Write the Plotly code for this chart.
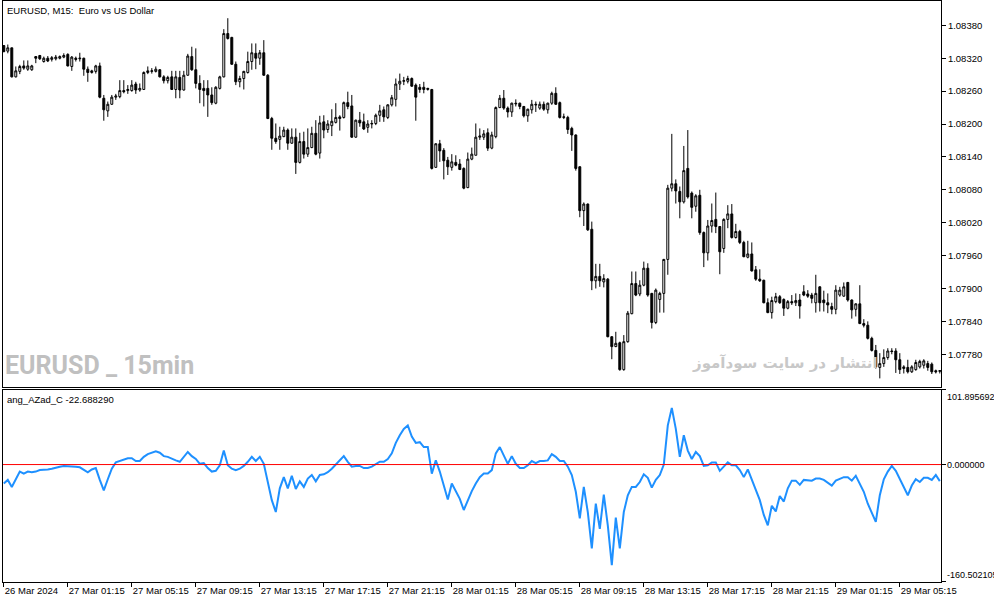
import plotly.graph_objects as go
from plotly.subplots import make_subplots
import pandas as pd

inicio = "2024-03-26 21:15"

apertura = [
    1.08343, 1.08333, 1.08339, 1.08286, 1.08296, 1.08306, 1.08300, 1.08299, 1.08323, 1.08325,
    1.08314, 1.08320, 1.08318, 1.08319, 1.08320, 1.08322, 1.08327, 1.08305, 1.08320, 1.08319,
    1.08320, 1.08300, 1.08294, 1.08296, 1.08306, 1.08247, 1.08224, 1.08236, 1.08249, 1.08250,
    1.08261, 1.08261, 1.08261, 1.08273, 1.08262, 1.08263, 1.08294, 1.08296, 1.08296, 1.08299,
    1.08286, 1.08279, 1.08286, 1.08263, 1.08285, 1.08262, 1.08289, 1.08323, 1.08299, 1.08274,
    1.08265, 1.08265, 1.08253, 1.08238, 1.08265, 1.08286, 1.08365, 1.08358, 1.08309, 1.08277,
    1.08283, 1.08294, 1.08314, 1.08329, 1.08320, 1.08330, 1.08289, 1.08210, 1.08174, 1.08172,
    1.08177, 1.08189, 1.08165, 1.08176, 1.08130, 1.08168, 1.08145, 1.08157, 1.08183, 1.08147,
    1.08204, 1.08190, 1.08197, 1.08203, 1.08213, 1.08212, 1.08239, 1.08233, 1.08176, 1.08207,
    1.08204, 1.08194, 1.08200, 1.08201, 1.08216, 1.08226, 1.08212, 1.08235, 1.08245, 1.08273,
    1.08278, 1.08278, 1.08283, 1.08271, 1.08267, 1.08267, 1.08263, 1.08263, 1.08121, 1.08164,
    1.08152, 1.08134, 1.08121, 1.08130, 1.08127, 1.08119, 1.08084, 1.08136, 1.08143, 1.08176,
    1.08176, 1.08184, 1.08156, 1.08177, 1.08230, 1.08247, 1.08229, 1.08222, 1.08238, 1.08238,
    1.08232, 1.08215, 1.08226, 1.08236, 1.08229, 1.08236, 1.08226, 1.08238, 1.08256, 1.08239,
    1.08212, 1.08212, 1.08192, 1.08180, 1.08122, 1.08042, 1.08054, 1.08008, 1.07914, 1.07922,
    1.07912, 1.07917, 1.07812, 1.07794, 1.07801, 1.07752, 1.07803, 1.07854, 1.07909, 1.07890,
    1.07906, 1.07937, 1.07891, 1.07838, 1.07880, 1.07891, 1.07953, 1.08083, 1.08091, 1.08077,
    1.08058, 1.08119, 1.08074, 1.08050, 1.08070, 1.08002, 1.07965, 1.08014, 1.08026, 1.08013,
    1.07973, 1.08026, 1.08036, 1.07993, 1.08004, 1.07984, 1.07957, 1.07963, 1.07934, 1.07917,
    1.07915, 1.07874, 1.07856, 1.07876, 1.07885, 1.07880, 1.07864, 1.07876, 1.07874, 1.07879,
    1.07894, 1.07890, 1.07888, 1.07874, 1.07903, 1.07879, 1.07874, 1.07867, 1.07862, 1.07888,
    1.07886, 1.07911, 1.07879, 1.07862, 1.07872, 1.07836, 1.07833, 1.07809, 1.07787, 1.07756,
    1.07763, 1.07774, 1.07786, 1.07786, 1.07770, 1.07754, 1.07756, 1.07748, 1.07752, 1.07757,
    1.07760, 1.07763, 1.07762, 1.07750, 1.07749,
]

maximo = [
    1.08344, 1.08345, 1.08339, 1.08305, 1.08308, 1.08316, 1.08316, 1.08308, 1.08324, 1.08326,
    1.08323, 1.08324, 1.08324, 1.08326, 1.08325, 1.08329, 1.08329, 1.08324, 1.08323, 1.08330,
    1.08321, 1.08305, 1.08299, 1.08308, 1.08312, 1.08253, 1.08241, 1.08253, 1.08255, 1.08280,
    1.08280, 1.08271, 1.08280, 1.08277, 1.08274, 1.08296, 1.08305, 1.08302, 1.08305, 1.08300,
    1.08289, 1.08288, 1.08297, 1.08297, 1.08297, 1.08297, 1.08328, 1.08341, 1.08338, 1.08289,
    1.08280, 1.08280, 1.08267, 1.08269, 1.08288, 1.08373, 1.08393, 1.08359, 1.08314, 1.08288,
    1.08297, 1.08332, 1.08347, 1.08347, 1.08335, 1.08353, 1.08291, 1.08213, 1.08201, 1.08195,
    1.08195, 1.08192, 1.08192, 1.08192, 1.08184, 1.08186, 1.08192, 1.08195, 1.08207, 1.08215,
    1.08216, 1.08207, 1.08227, 1.08238, 1.08216, 1.08241, 1.08259, 1.08253, 1.08208, 1.08222,
    1.08219, 1.08207, 1.08207, 1.08219, 1.08235, 1.08232, 1.08236, 1.08253, 1.08283, 1.08292,
    1.08286, 1.08288, 1.08285, 1.08274, 1.08273, 1.08277, 1.08266, 1.08264, 1.08165, 1.08171,
    1.08156, 1.08140, 1.08145, 1.08143, 1.08136, 1.08121, 1.08148, 1.08157, 1.08201, 1.08192,
    1.08189, 1.08192, 1.08186, 1.08232, 1.08253, 1.08262, 1.08232, 1.08239, 1.08245, 1.08239,
    1.08233, 1.08228, 1.08244, 1.08241, 1.08241, 1.08241, 1.08239, 1.08259, 1.08267, 1.08241,
    1.08219, 1.08215, 1.08195, 1.08181, 1.08123, 1.08057, 1.08055, 1.08022, 1.07945, 1.07945,
    1.07926, 1.07919, 1.07813, 1.07821, 1.07803, 1.07815, 1.07859, 1.07931, 1.07931, 1.07915,
    1.07949, 1.07946, 1.07892, 1.07900, 1.07894, 1.07954, 1.08089, 1.08182, 1.08099, 1.08086,
    1.08160, 1.08189, 1.08077, 1.08072, 1.08080, 1.08004, 1.08025, 1.08055, 1.08075, 1.08014,
    1.08028, 1.08052, 1.08054, 1.08018, 1.08007, 1.07987, 1.07987, 1.07984, 1.07941, 1.07935,
    1.07916, 1.07882, 1.07885, 1.07892, 1.07888, 1.07882, 1.07879, 1.07888, 1.07891, 1.07890,
    1.07906, 1.07897, 1.07892, 1.07925, 1.07904, 1.07896, 1.07891, 1.07874, 1.07906, 1.07903,
    1.07911, 1.07912, 1.07880, 1.07873, 1.07906, 1.07844, 1.07840, 1.07812, 1.07797, 1.07782,
    1.07789, 1.07791, 1.07791, 1.07791, 1.07782, 1.07760, 1.07770, 1.07760, 1.07770, 1.07770,
    1.07771, 1.07768, 1.07765, 1.07752, 1.07751,
]

minimo = [
    1.08331, 1.08329, 1.08285, 1.08285, 1.08291, 1.08299, 1.08297, 1.08297, 1.08311, 1.08317,
    1.08312, 1.08313, 1.08314, 1.08316, 1.08318, 1.08320, 1.08305, 1.08297, 1.08314, 1.08314,
    1.08288, 1.08277, 1.08292, 1.08292, 1.08247, 1.08206, 1.08213, 1.08235, 1.08244, 1.08247,
    1.08256, 1.08255, 1.08259, 1.08255, 1.08259, 1.08262, 1.08291, 1.08292, 1.08294, 1.08285,
    1.08274, 1.08274, 1.08262, 1.08247, 1.08247, 1.08261, 1.08288, 1.08297, 1.08265, 1.08238,
    1.08232, 1.08213, 1.08235, 1.08236, 1.08263, 1.08285, 1.08354, 1.08308, 1.08271, 1.08267,
    1.08263, 1.08292, 1.08299, 1.08300, 1.08308, 1.08288, 1.08209, 1.08153, 1.08164, 1.08153,
    1.08176, 1.08153, 1.08164, 1.08109, 1.08128, 1.08137, 1.08140, 1.08156, 1.08143, 1.08137,
    1.08174, 1.08184, 1.08178, 1.08201, 1.08188, 1.08210, 1.08227, 1.08175, 1.08175, 1.08195,
    1.08189, 1.08184, 1.08192, 1.08198, 1.08204, 1.08204, 1.08209, 1.08232, 1.08232, 1.08262,
    1.08271, 1.08274, 1.08268, 1.08206, 1.08257, 1.08256, 1.08261, 1.08117, 1.08120, 1.08131,
    1.08099, 1.08107, 1.08115, 1.08123, 1.08116, 1.08081, 1.08083, 1.08134, 1.08143, 1.08171,
    1.08171, 1.08151, 1.08154, 1.08174, 1.08229, 1.08226, 1.08212, 1.08213, 1.08232, 1.08227,
    1.08212, 1.08204, 1.08219, 1.08222, 1.08226, 1.08224, 1.08219, 1.08235, 1.08235, 1.08210,
    1.08209, 1.08182, 1.08151, 1.08115, 1.08030, 1.08014, 1.08005, 1.07897, 1.07900, 1.07903,
    1.07902, 1.07811, 1.07771, 1.07793, 1.07750, 1.07750, 1.07801, 1.07853, 1.07886, 1.07886,
    1.07904, 1.07885, 1.07827, 1.07835, 1.07856, 1.07856, 1.07925, 1.08077, 1.08055, 1.08028,
    1.08055, 1.08064, 1.08028, 1.08040, 1.07998, 1.07939, 1.07951, 1.08002, 1.08001, 1.07926,
    1.07965, 1.08010, 1.07991, 1.07991, 1.07981, 1.07957, 1.07955, 1.07931, 1.07914, 1.07912,
    1.07873, 1.07855, 1.07845, 1.07873, 1.07872, 1.07850, 1.07862, 1.07870, 1.07868, 1.07845,
    1.07886, 1.07883, 1.07873, 1.07856, 1.07858, 1.07858, 1.07855, 1.07853, 1.07853, 1.07885,
    1.07885, 1.07876, 1.07845, 1.07849, 1.07835, 1.07829, 1.07807, 1.07785, 1.07754, 1.07736,
    1.07757, 1.07770, 1.07780, 1.07746, 1.07744, 1.07745, 1.07745, 1.07746, 1.07750, 1.07754,
    1.07754, 1.07750, 1.07744, 1.07745, 1.07745,
]

cierre = [
    1.08332, 1.08339, 1.08286, 1.08297, 1.08305, 1.08302, 1.08306, 1.08306, 1.08320, 1.08319,
    1.08320, 1.08315, 1.08321, 1.08322, 1.08323, 1.08325, 1.08306, 1.08322, 1.08318, 1.08320,
    1.08300, 1.08294, 1.08297, 1.08306, 1.08249, 1.08226, 1.08236, 1.08249, 1.08251, 1.08261,
    1.08259, 1.08263, 1.08271, 1.08262, 1.08265, 1.08294, 1.08297, 1.08297, 1.08300, 1.08286,
    1.08279, 1.08285, 1.08263, 1.08286, 1.08262, 1.08289, 1.08324, 1.08299, 1.08274, 1.08263,
    1.08261, 1.08253, 1.08239, 1.08267, 1.08286, 1.08365, 1.08356, 1.08309, 1.08277, 1.08283,
    1.08296, 1.08314, 1.08330, 1.08320, 1.08330, 1.08289, 1.08210, 1.08174, 1.08168, 1.08178,
    1.08189, 1.08165, 1.08176, 1.08130, 1.08168, 1.08145, 1.08157, 1.08183, 1.08145, 1.08202,
    1.08189, 1.08200, 1.08205, 1.08212, 1.08210, 1.08239, 1.08232, 1.08176, 1.08207, 1.08202,
    1.08191, 1.08200, 1.08201, 1.08216, 1.08224, 1.08213, 1.08235, 1.08248, 1.08273, 1.08278,
    1.08279, 1.08283, 1.08269, 1.08249, 1.08263, 1.08263, 1.08265, 1.08119, 1.08164, 1.08151,
    1.08133, 1.08122, 1.08131, 1.08125, 1.08117, 1.08083, 1.08136, 1.08145, 1.08176, 1.08178,
    1.08182, 1.08156, 1.08180, 1.08230, 1.08247, 1.08229, 1.08222, 1.08238, 1.08237, 1.08232,
    1.08215, 1.08227, 1.08236, 1.08235, 1.08236, 1.08227, 1.08238, 1.08256, 1.08236, 1.08212,
    1.08213, 1.08190, 1.08180, 1.08119, 1.08042, 1.08054, 1.08007, 1.07914, 1.07922, 1.07914,
    1.07918, 1.07812, 1.07794, 1.07800, 1.07752, 1.07803, 1.07855, 1.07909, 1.07888, 1.07906,
    1.07937, 1.07888, 1.07838, 1.07897, 1.07891, 1.07953, 1.08083, 1.08091, 1.08078, 1.08058,
    1.08115, 1.08067, 1.08048, 1.08069, 1.08002, 1.07965, 1.08014, 1.08024, 1.08013, 1.07967,
    1.08026, 1.08036, 1.07993, 1.08004, 1.07984, 1.07958, 1.07963, 1.07932, 1.07917, 1.07914,
    1.07874, 1.07856, 1.07878, 1.07885, 1.07874, 1.07864, 1.07876, 1.07874, 1.07878, 1.07868,
    1.07888, 1.07886, 1.07882, 1.07891, 1.07874, 1.07874, 1.07870, 1.07862, 1.07897, 1.07897,
    1.07903, 1.07879, 1.07861, 1.07872, 1.07836, 1.07833, 1.07809, 1.07787, 1.07757, 1.07763,
    1.07774, 1.07786, 1.07785, 1.07770, 1.07752, 1.07757, 1.07748, 1.07757, 1.07765, 1.07767,
    1.07768, 1.07756, 1.07748, 1.07748, 1.07750,
]

# Indicador ang_AZad_C
ang_azad = [
    -25.8, -21.0, -30.6, -19.1, -9.6, -12.4, -9.6, -10.5, -9.6, -7.6,
    -7.6, -6.7, -5.7, -3.8, -2.9, -1.9, -1.9, -2.9, -2.9, -3.8,
    -7.6, -10.5, -6.7, -4.8, -21.0, -35.3, -20.1, -5.7, 2.9, 4.8,
    7.6, 8.6, 8.6, 4.8, 4.8, 10.5, 14.3, 16.2, 18.1, 16.2,
    11.5, 10.5, 7.6, 5.7, 3.8, 10.5, 17.2, 11.5, 7.6, 1.0,
    1.9, -4.8, -9.6, -8.6, -1.0, 19.1, -1.0, -5.7, -7.6, -5.7,
    -1.9, 3.8, 10.5, 4.8, 10.5, 1.0, -23.9, -48.7, -64.9, -32.5,
    -17.2, -32.5, -15.3, -33.4, -22.9, -30.6, -19.1, -14.3, -22.9, -14.3,
    -13.4, -10.5, -5.7, 0.0, 5.7, 11.5, 3.8, -2.9, -1.9, -1.9,
    -4.8, -4.8, -2.9, 0.0, 3.8, 3.8, 7.6, 15.3, 29.6, 40.1,
    48.7, 53.5, 38.2, 29.6, 30.6, 23.9, 23.9, -12.4, 5.7, -9.6,
    -28.7, -47.8, -25.8, -35.3, -46.8, -62.1, -48.7, -36.3, -25.8, -17.2,
    -12.4, -12.4, -7.6, 15.3, 23.9, 12.4, 1.0, 11.5, 1.0, -4.8,
    -4.8, -1.0, 4.8, 1.9, 4.8, 4.8, 5.7, 14.3, 10.5, 4.8,
    4.8, -2.9, -14.3, -37.2, -73.5, -30.6, -64.9, -114.6, -53.5, -87.9,
    -41.1, -83.1, -137.5, -72.6, -114.6, -64.9, -42.0, -30.6, -30.6, -23.9,
    -13.4, -18.1, -31.5, -21.0, -14.3, 0.0, 53.5, 77.4, 48.7, 10.5,
    40.1, 19.1, 7.6, 17.2, 11.5, -1.9, -1.0, 2.9, 2.9, -8.6,
    -2.9, 2.9, -1.0, -1.0, -7.6, -17.2, -6.7, -21.0, -37.2, -48.7,
    -68.8, -83.1, -56.3, -64.0, -43.0, -50.6, -32.5, -22.0, -22.0, -27.7,
    -21.0, -22.0, -22.0, -19.1, -19.1, -21.0, -24.8, -28.7, -22.0, -20.1,
    -17.2, -17.2, -22.0, -15.3, -25.8, -37.2, -53.5, -66.9, -78.3, -42.0,
    -20.1, -9.6, -1.9, -8.6, -20.1, -32.5, -42.0, -28.7, -20.1, -23.9,
    -18.1, -18.1, -21.0, -14.3, -22.688290,
]

etiquetas_x = [
    "26 Mar 2024", "27 Mar 01:15", "27 Mar 05:15", "27 Mar 09:15", "27 Mar 13:15",
    "27 Mar 17:15", "27 Mar 21:15", "28 Mar 01:15", "28 Mar 05:15", "28 Mar 09:15",
    "28 Mar 13:15", "28 Mar 17:15", "28 Mar 21:15", "29 Mar 01:15", "29 Mar 05:15",
]
precios_eje = [1.07780, 1.07840, 1.07900, 1.07960, 1.08020, 1.08080,
               1.08140, 1.08200, 1.08260, 1.08320, 1.08380]
limites_ind = [-160.502105, 101.895692]

fuente = "Liberation Sans, Arial, sans-serif"


def grafico_velas_indicador(titulo, nombre_ind):
    """
    Grafico de velas estilo MetaTrader con el indicador en una ventana inferior.
    """
    fechas = pd.date_range(inicio, periods=len(cierre), freq="15min")
    barra = pd.Timedelta(minutes=15)
    rango_x = [fechas[0] - 0.2 * barra, fechas[0] + 234.3 * barra]

    fig = make_subplots(rows=2, cols=1, shared_xaxes=True)

    # Velas: alcistas huecas, bajistas negras
    fig.add_trace(go.Candlestick(
        x=fechas, open=apertura, high=maximo, low=minimo, close=cierre,
        increasing=dict(line=dict(color="black", width=1), fillcolor="white"),
        decreasing=dict(line=dict(color="black", width=1), fillcolor="black"),
        whiskerwidth=0, hoverinfo="skip"), row=1, col=1)

    # Linea del indicador
    fig.add_trace(go.Scatter(
        x=fechas, y=ang_azad, mode="lines",
        line=dict(color="#1E90FF", width=2), hoverinfo="skip"), row=2, col=1)

    fig.add_hline(y=0, line_color="red", line_width=1, row=2, col=1)

    ejes = dict(showline=True, mirror=True, linecolor="black", linewidth=1,
                showgrid=False, zeroline=False, automargin=False)

    fig.update_layout(
        width=994, height=603,
        margin=dict(l=3, r=53, t=1, b=21),
        plot_bgcolor="white", paper_bgcolor="white",
        showlegend=False,
        font=dict(family=fuente, size=9.5, color="black"),
        xaxis=dict(**ejes, range=rango_x, showticklabels=False, ticks="",
                   rangeslider=dict(visible=False)),
        xaxis2=dict(**ejes, range=rango_x, tickvals=fechas[::16], ticktext=etiquetas_x,
                    ticks="outside", ticklen=4, tickcolor="black", tickangle=0,
                    ticklabelposition="outside right"),
        yaxis=dict(**ejes, domain=[0.3361, 1.0], side="right",
                   range=[1.077208, 1.084244], tickvals=precios_eje, tickformat=".5f",
                   ticks="outside", ticklen=4, tickcolor="black"),
        yaxis2=dict(**ejes, domain=[0.0, 0.3305], side="right", range=limites_ind,
                    tickvals=[limites_ind[0], 0, limites_ind[1]], showticklabels=False,
                    ticks="outside", ticklen=4, tickcolor="black"),
    )

    # Etiquetas del eje del indicador (como en MT5, dentro de la ventana)
    for valor, ancla in [(limites_ind[1], "top"), (0, "middle"), (limites_ind[0], "bottom")]:
        fig.add_annotation(x=1, xref="paper", y=valor, yref="y2", xanchor="left",
                           yanchor=ancla, xshift=4, showarrow=False,
                           text=f"{valor:.6f}", font=dict(family=fuente, size=9))

    # Titulos y marcas de agua
    fig.add_annotation(x=0, xref="paper", y=1, yref="paper", xanchor="left", yanchor="top",
                       xshift=2, yshift=-2, showarrow=False, text=titulo,
                       font=dict(family=fuente, size=9.5, color="black"))
    fig.add_annotation(x=0, xref="x2 domain", y=1, yref="y2 domain", xanchor="left",
                       yanchor="top", xshift=2, yshift=-2, showarrow=False,
                       text=f"{nombre_ind} {ang_azad[-1]:.6f}",
                       font=dict(family=fuente, size=9.5, color="black"))
    fig.add_annotation(x=0, xref="x domain", y=0.055, yref="y domain", xanchor="left",
                       yanchor="middle", showarrow=False, text="EURUSD _ 15min",
                       font=dict(family="Roboto, Liberation Sans, sans-serif",
                                 size=25, color="#c0c0c0", weight="bold"))
    fig.add_annotation(x=0.935, xref="x domain", y=0.062, yref="y domain", xanchor="right",
                       yanchor="middle", showarrow=False, text="انتشار در سایت سودآموز",
                       font=dict(family="DejaVu Sans", size=15, color="#c8c8c8",
                                 weight="bold"))

    # Sin margen del body y sin barra de herramientas
    fig.write_html("out.html", config={"displayModeBar": False},
                   post_script="document.body.style.margin='0px';")


grafico_velas_indicador("EURUSD, M15:\u00a0 Euro vs US Dollar", "ang_AZad_C")
